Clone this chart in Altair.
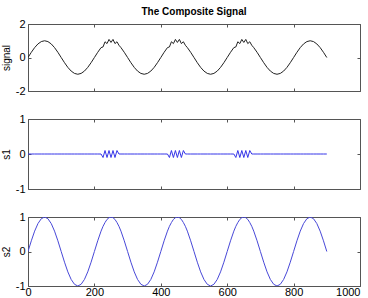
import altair as alt
import pandas as pd

# sample positions (denser inside the three bursts)
x = [0, 10, 20, 30, 40, 50, 60, 70, 80, 90, 100, 110, 120, 130, 140, 150, 160, 170, 180, 190, 200, 210,
     220, 226, 232, 238, 244, 250, 256, 262, 268, 274, 280,
     290, 300, 310, 320, 330, 340, 350, 360, 370, 380, 390, 400, 410,
     420, 426, 432, 438, 444, 450, 456, 462, 468, 474, 480,
     490, 500, 510, 520, 530, 540, 550, 560, 570, 580, 590, 600, 610,
     620, 626, 632, 638, 644, 650, 656, 662, 668, 674, 680,
     690, 700, 710, 720, 730, 740, 750, 760, 770, 780, 790, 800, 810, 820, 830, 840, 850, 860, 870, 880, 890, 900]

# s1: flat with three small high-frequency bursts
s1 = [0, 0, 0, 0, 0, 0, 0, 0, 0, 0, 0, 0, 0, 0, 0, 0, 0, 0, 0, 0, 0, 0,
      0, -0.1, 0.1, -0.1, 0.1, -0.1, 0.1, -0.1, 0.1, 0, 0,
      0, 0, 0, 0, 0, 0, 0, 0, 0, 0, 0, 0, 0,
      0, -0.1, 0.1, -0.1, 0.1, -0.1, 0.1, -0.1, 0.1, 0, 0,
      0, 0, 0, 0, 0, 0, 0, 0, 0, 0, 0, 0, 0,
      0, -0.1, 0.1, -0.1, 0.1, -0.1, 0.1, -0.1, 0.1, 0, 0,
      0, 0, 0, 0, 0, 0, 0, 0, 0, 0, 0, 0, 0, 0, 0, 0, 0, 0, 0, 0, 0, 0]

# s2: slow oscillation
s2 = [0, 0.31, 0.59, 0.81, 0.95, 1, 0.95, 0.81, 0.59, 0.31, 0, -0.31, -0.59, -0.81, -0.95, -1, -0.95, -0.81, -0.59, -0.31, 0, 0.31,
      0.59, 0.73, 0.84, 0.93, 0.98, 1.0, 0.98, 0.93, 0.84, 0.73, 0.59,
      0.31, 0, -0.31, -0.59, -0.81, -0.95, -1, -0.95, -0.81, -0.59, -0.31, 0, 0.31,
      0.59, 0.73, 0.84, 0.93, 0.98, 1.0, 0.98, 0.93, 0.84, 0.73, 0.59,
      0.31, 0, -0.31, -0.59, -0.81, -0.95, -1, -0.95, -0.81, -0.59, -0.31, 0, 0.31,
      0.59, 0.73, 0.84, 0.93, 0.98, 1.0, 0.98, 0.93, 0.84, 0.73, 0.59,
      0.31, 0, -0.31, -0.59, -0.81, -0.95, -1, -0.95, -0.81, -0.59, -0.31, 0, 0.31, 0.59, 0.81, 0.95, 1, 0.95, 0.81, 0.59, 0.31, 0]

signal = [a + b for a, b in zip(s1, s2)]

x_ticks = [0, 200, 400, 600, 800, 1000]

df = pd.DataFrame({"x": x, "s1": s1, "s2": s2, "signal": signal})

FONT = "Liberation Sans"
W = 332
TS = 3
FRAME = "#555555"


def panel(field, color, ydom, yticks, show_xlabels, h):
    xs = alt.Scale(domain=[0, 1000], nice=False, zero=False)
    ys = alt.Scale(domain=ydom, nice=False, zero=False)
    common = dict(offset=-TS, tickSize=TS, domain=False, grid=False,
                  tickColor=FRAME, labelColor="black", labelFont=FONT,
                  labelFontSize=11, titleFont=FONT, titleFontSize=10,
                  titleFontWeight="normal", titleColor="black",
                  labelFlush=False, labelExpr="'' + datum.value")
    line = alt.Chart(df).mark_line(color=color, strokeWidth=1, clip=True).encode(
        x=alt.X("x:Q", scale=xs,
                axis=alt.Axis(orient="bottom", values=x_ticks, labels=show_xlabels,
                              title=None, labelPadding=0,
                              labelAlign={"condition": {"test": "datum.value >= 1000", "value": "right"},
                                          "value": "center"},
                              **common)),
        y=alt.Y(f"{field}:Q", scale=ys,
                axis=alt.Axis(orient="left", values=yticks, title=field,
                              labelPadding=3, titlePadding=4, **common)),
    )
    ghost = alt.Chart(df).mark_line(strokeOpacity=0).encode(
        x=alt.X("x:Q", scale=xs,
                axis=alt.Axis(orient="top", values=x_ticks, labels=False, title=None, **common)),
        y=alt.Y(f"{field}:Q", scale=ys,
                axis=alt.Axis(orient="right", values=yticks, labels=False, title=None, **common)),
    )
    return alt.layer(line, ghost).resolve_axis(x="independent", y="independent").properties(
        width=W, height=h)


top = panel("signal", "#222222", [-2, 2], [-2, 0, 2], False, 67).properties(
    title=alt.TitleParams("The Composite Signal", font=FONT, fontSize=10, fontWeight="bold",
                          color="black", anchor="middle", offset=1))
mid = panel("s1", "#3535e8", [-1, 1], [-1, 0, 1], False, 70)
bot = panel("s2", "#4848d8", [-1, 1], [-1, 0, 1], True, 69)

chart = alt.vconcat(top, mid, bot, spacing=15).properties(
    padding={"left": 0, "top": 6, "right": 0, "bottom": 0}
).configure_view(stroke=FRAME, strokeWidth=1)

chart.save("out.html", embed_options={"renderer": "svg", "actions": False})
